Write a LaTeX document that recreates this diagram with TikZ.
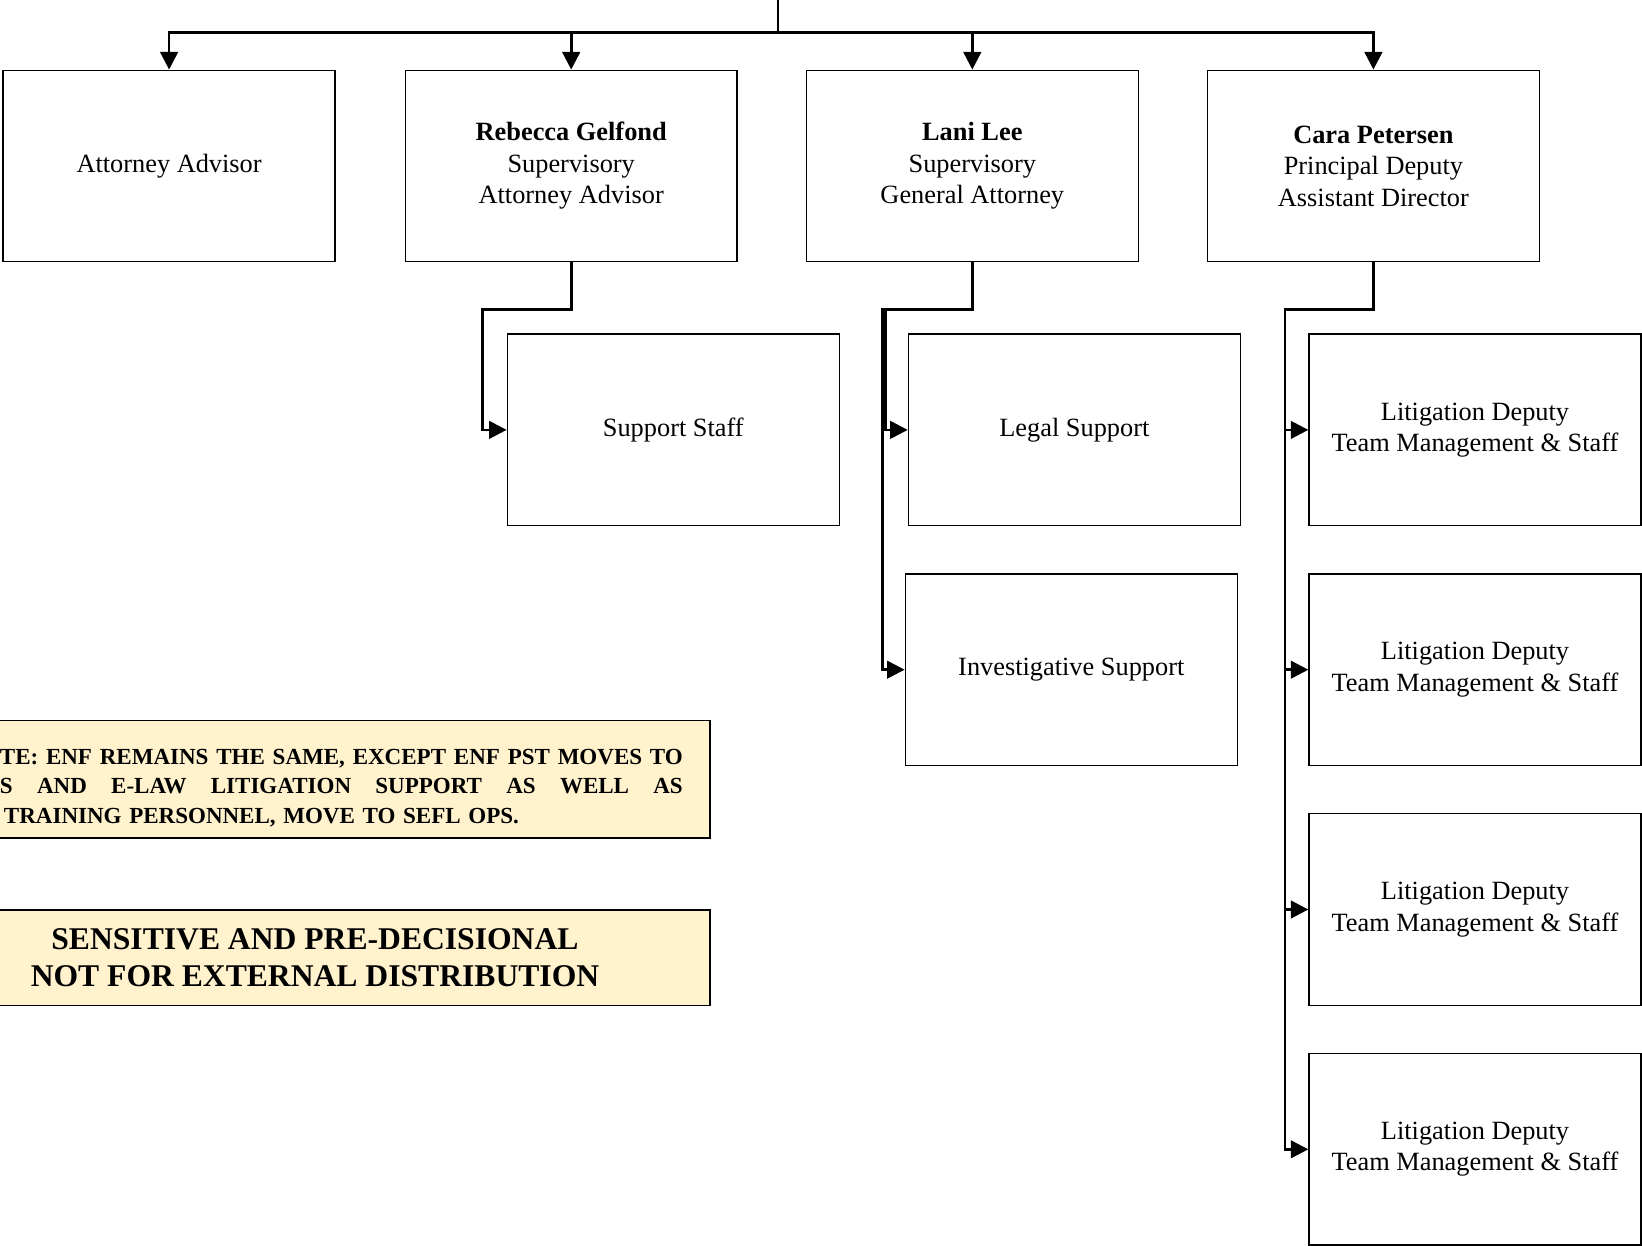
\documentclass[tikz,border=0pt]{standalone}
\definecolor{noteYellow}{RGB}{255,242,204}
\usepackage{fontspec}
\setmainfont{Liberation Serif}
\usepackage{tikz}
\usetikzlibrary{arrows.meta,positioning,calc}

\begin{document}
\begin{tikzpicture}[x=0.02cm,y=-0.02cm,
        staffbox/.style={draw=black,line width=0.8pt,minimum width=6.64cm,minimum height=3.83cm,
                         inner sep=2pt,align=center,font=\fontsize{15}{17.9}\selectfont},
        notebox/.style={draw=black,line width=0.8pt,fill=noteYellow},
        conn/.style={line width=1.5pt,-{Triangle[length=10pt,width=10pt]}}]
    \useasboundingbox (0,0) rectangle (1642,1246);

    % top row
    \node[staffbox] (aa) at (169.1,166) {Attorney Advisor};
    \node[staffbox] (rg) at (571.2,166) {\textbf{Rebecca Gelfond}\\Supervisory\\Attorney Advisor};
    \node[staffbox] (ll) at (972.3,166) {\textbf{Lani Lee}\\Supervisory\\General Attorney};
    \node[staffbox] (cp) at (1373.4,166) {\textbf{Cara Petersen}\\Principal Deputy\\Assistant Director};

    % staff under each lead
    \node[staffbox] (ss) at (673.3,429.9) {Support Staff};
    \node[staffbox] (ls) at (1074.4,429.9) {Legal Support};
    \node[staffbox] (is) at (1071.3,669.7) {Investigative Support};
    \foreach \y [count=\i] in {429.9,669.7,909.5,1149.3}
        \node[staffbox] (ld\i) at (1475,\y) {Litigation Deputy\\Team Management \& Staff};

    % connectors
    \coordinate (top) at (778,0);
    \coordinate (bus) at (778,32.5);
    \draw[line width=1.5pt] (top) -- (bus);
    \foreach \n in {aa,rg,ll,cp}
        \draw[conn] (bus) -| (\n.north);
    \draw[conn] (rg.south) -- ++(0,47.1) -- ++(-88.4,0) |- (ss.west);
    \draw[conn] (ll.south) -- ++(0,47.1) -- ++(-87,0) |- (ls.west);
    \draw[conn] (ll.south) -- ++(0,47.1) -- ++(-90,0) |- (is.west);
    \foreach \i in {1,...,4}
        \draw[conn] (cp.south) -- ++(0,47.1) -- ++(-88.5,0) |- (ld\i.west);

    % notes
    \node[notebox,text width=13.66cm,inner xsep=0.544cm,minimum height=2.346cm,align=left,
          font=\fontsize{13.1}{16.7}\selectfont\bfseries] (note) at (341.4,779.2) {%
        \rule{0pt}{0.66cm}\makebox[13.66cm][l]{TE: ENF\hfill REMAINS\hfill THE\hfill SAME,\hfill EXCEPT\hfill ENF\hfill PST\hfill MOVES\hfill TO}\\
        \makebox[13.66cm][l]{S\hfill AND\hfill E-LAW\hfill LITIGATION\hfill SUPPORT\hfill AS\hfill WELL\hfill AS}\\
        \hspace*{0.08cm}TRAINING PERSONNEL, MOVE TO SEFL OPS.};
    \node[notebox,minimum width=15.8cm,minimum height=1.906cm,align=center,
          font=\fontsize{18}{21.5}\selectfont\bfseries] (sens) at (315,957.7)
        {SENSITIVE AND PRE-DECISIONAL\\NOT FOR EXTERNAL DISTRIBUTION};
\end{tikzpicture}
\end{document}
